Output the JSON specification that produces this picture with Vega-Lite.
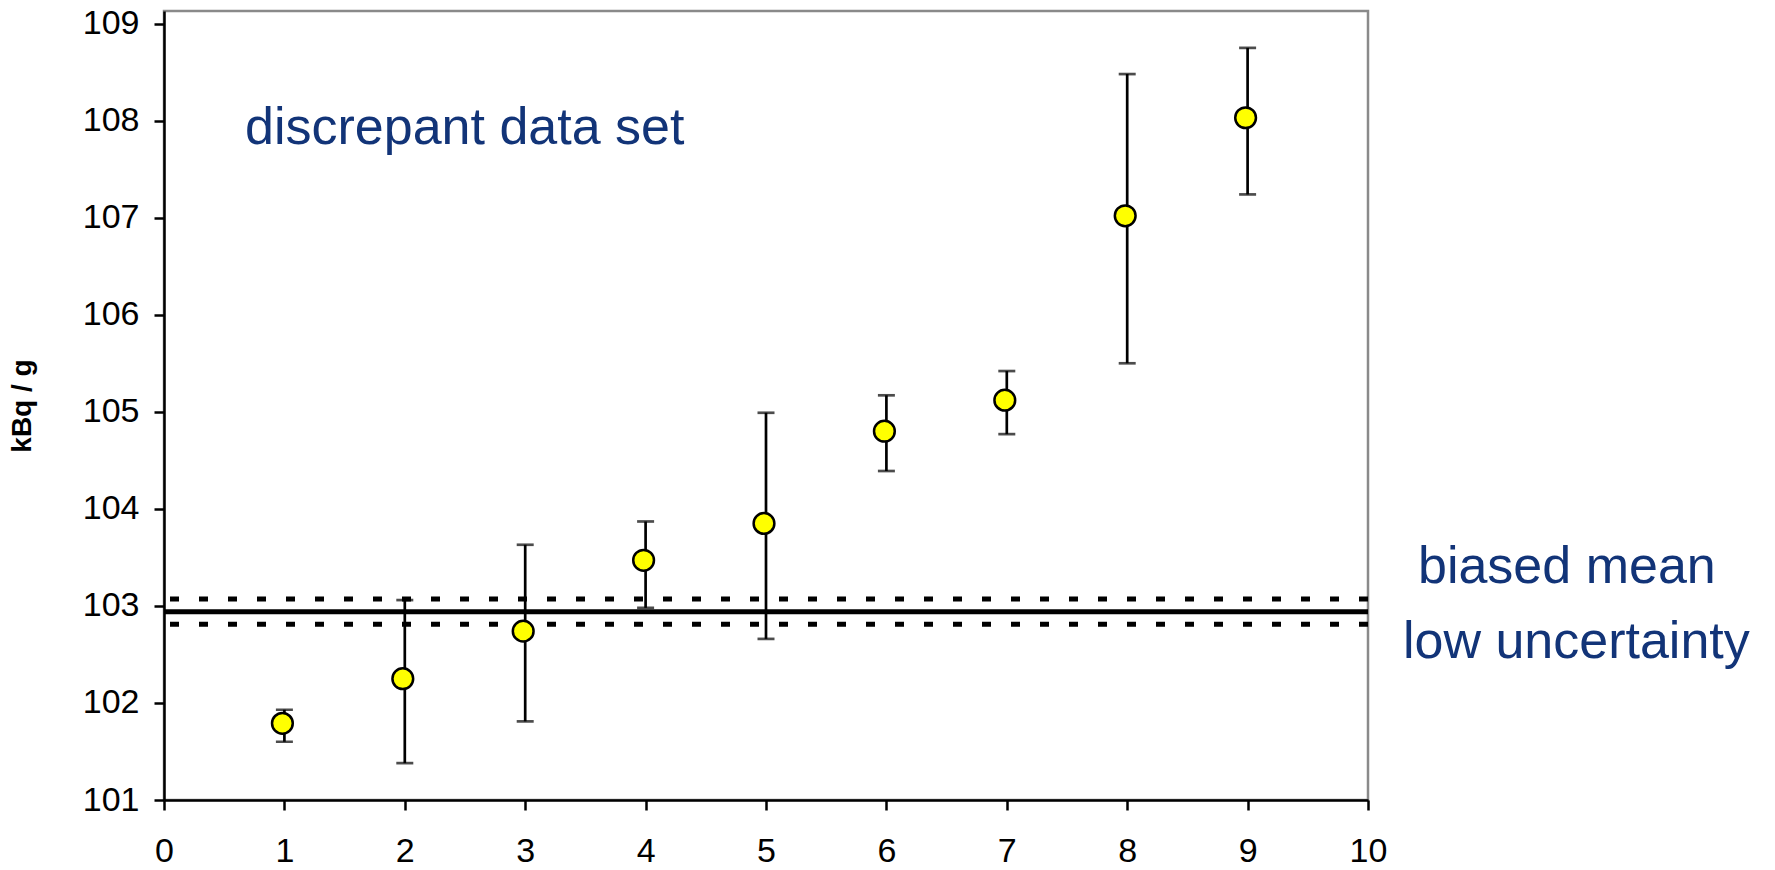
{
  "$schema": "https://vega.github.io/schema/vega-lite/v6.json",
  "width": 1204,
  "height": 789,
  "autosize": "none",
  "padding": {"left": 164, "top": 11, "right": 407, "bottom": 70},
  "background": "white",
  "config": {
    "view": {"stroke": "#8a8a8a", "strokeWidth": 2.5},
    "font": "Liberation Sans",
    "axis": {
      "grid": false,
      "labelFlush": false,
      "labelOverlap": false,
      "domainColor": "black",
      "domainWidth": 2.5,
      "tickColor": "black",
      "tickWidth": 2.5,
      "tickSize": 10,
      "labelColor": "black",
      "labelFont": "Liberation Sans",
      "labelFontSize": 34,
      "titleFont": "Liberation Sans",
      "titleFontSize": 28,
      "titleFontWeight": "bold",
      "titleColor": "black"
    },
    "axisY": {"titlePadding": 46, "labelPadding": 15},
    "axisX": {"labelPadding": 24}
  },
  "datasets": {
    "points": [
      {"run": 1, "value": 101.79, "low": 101.60, "high": 101.93},
      {"run": 2, "value": 102.25, "low": 101.38, "high": 103.06},
      {"run": 3, "value": 102.74, "low": 101.81, "high": 103.63},
      {"run": 4, "value": 103.47, "low": 102.98, "high": 103.87},
      {"run": 5, "value": 103.85, "low": 102.66, "high": 104.99},
      {"run": 6, "value": 104.80, "low": 104.39, "high": 105.17},
      {"run": 7, "value": 105.12, "low": 104.77, "high": 105.42},
      {"run": 8, "value": 107.02, "low": 105.50, "high": 108.48},
      {"run": 9, "value": 108.03, "low": 107.24, "high": 108.75}
    ],
    "mean": [{"kind": "mean", "value": 102.94}],
    "band": [{"kind": "upper", "value": 103.07}, {"kind": "lower", "value": 102.81}],
    "notes": [
      {"label": "discrepant data set", "x": 0.673, "y": 107.76},
      {"label": "biased mean", "x": 10.415, "y": 103.24},
      {"label": "low uncertainty", "x": 10.29, "y": 102.46}
    ]
  },
  "layer": [
    {
      "data": {"name": "points"},
      "mark": {"type": "rule", "color": "black", "strokeWidth": 2.7},
      "encoding": {
        "x": {"field": "run", "type": "quantitative",
          "scale": {"domain": [0, 10], "nice": false, "zero": false},
          "axis": {"title": null, "values": [0, 1, 2, 3, 4, 5, 6, 7, 8, 9, 10]}},
        "y": {"field": "low", "type": "quantitative",
          "scale": {"domain": [101, 109.13], "nice": false, "zero": false},
          "axis": {"title": "kBq / g", "values": [101, 102, 103, 104, 105, 106, 107, 108, 109]}},
        "y2": {"field": "high"}
      }
    },
    {
      "data": {"name": "band"},
      "mark": {"type": "rule", "color": "black", "strokeWidth": 5, "strokeDash": [9, 20]},
      "encoding": {
        "y": {"field": "value", "type": "quantitative",
          "scale": {"domain": [101, 109.13], "nice": false, "zero": false},
          "axis": {"title": "kBq / g", "values": [101, 102, 103, 104, 105, 106, 107, 108, 109]}}
      }
    },
    {
      "data": {"name": "mean"},
      "mark": {"type": "rule", "color": "black", "strokeWidth": 5},
      "encoding": {
        "y": {"field": "value", "type": "quantitative",
          "scale": {"domain": [101, 109.13], "nice": false, "zero": false},
          "axis": {"title": "kBq / g", "values": [101, 102, 103, 104, 105, 106, 107, 108, 109]}}
      }
    },
    {
      "data": {"name": "points"},
      "mark": {"type": "tick", "orient": "horizontal", "color": "black", "size": 17, "thickness": 2.7},
      "encoding": {
        "x": {"field": "run", "type": "quantitative",
          "scale": {"domain": [0, 10], "nice": false, "zero": false},
          "axis": {"title": null, "values": [0, 1, 2, 3, 4, 5, 6, 7, 8, 9, 10]}},
        "y": {"field": "high", "type": "quantitative",
          "scale": {"domain": [101, 109.13], "nice": false, "zero": false},
          "axis": {"title": "kBq / g", "values": [101, 102, 103, 104, 105, 106, 107, 108, 109]}}
      }
    },
    {
      "data": {"name": "points"},
      "mark": {"type": "tick", "orient": "horizontal", "color": "black", "size": 17, "thickness": 2.7},
      "encoding": {
        "x": {"field": "run", "type": "quantitative",
          "scale": {"domain": [0, 10], "nice": false, "zero": false},
          "axis": {"title": null, "values": [0, 1, 2, 3, 4, 5, 6, 7, 8, 9, 10]}},
        "y": {"field": "low", "type": "quantitative",
          "scale": {"domain": [101, 109.13], "nice": false, "zero": false},
          "axis": {"title": "kBq / g", "values": [101, 102, 103, 104, 105, 106, 107, 108, 109]}}
      }
    },
    {
      "data": {"name": "points"},
      "mark": {"type": "point", "shape": "circle", "filled": true, "fill": "#FFFF00", "stroke": "black",
        "strokeWidth": 2.5, "size": 430, "opacity": 1, "xOffset": -2},
      "encoding": {
        "x": {"field": "run", "type": "quantitative",
          "scale": {"domain": [0, 10], "nice": false, "zero": false},
          "axis": {"title": null, "values": [0, 1, 2, 3, 4, 5, 6, 7, 8, 9, 10]}},
        "y": {"field": "value", "type": "quantitative",
          "scale": {"domain": [101, 109.13], "nice": false, "zero": false},
          "axis": {"title": "kBq / g", "values": [101, 102, 103, 104, 105, 106, 107, 108, 109]}}
      }
    },
    {
      "data": {"name": "notes"},
      "mark": {"type": "text", "align": "left", "baseline": "alphabetic", "font": "Liberation Sans",
        "fontSize": 52, "color": "#123478"},
      "encoding": {
        "x": {"field": "x", "type": "quantitative",
          "scale": {"domain": [0, 10], "nice": false, "zero": false},
          "axis": {"title": null, "values": [0, 1, 2, 3, 4, 5, 6, 7, 8, 9, 10]}},
        "y": {"field": "y", "type": "quantitative",
          "scale": {"domain": [101, 109.13], "nice": false, "zero": false},
          "axis": {"title": "kBq / g", "values": [101, 102, 103, 104, 105, 106, 107, 108, 109]}},
        "text": {"field": "label"}
      }
    }
  ]
}
